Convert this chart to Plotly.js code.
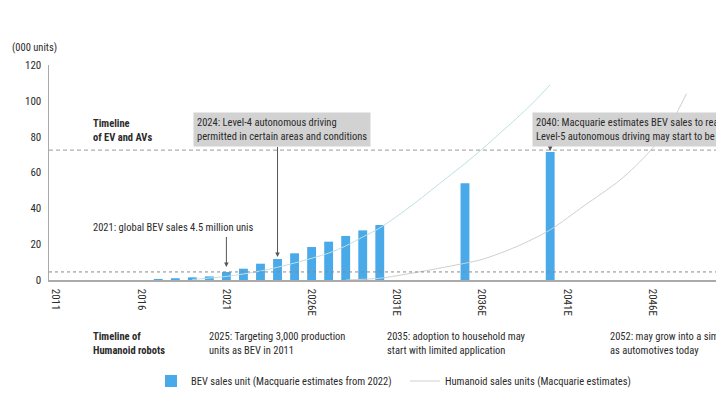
<!DOCTYPE html>
<html>
<head>
<meta charset="utf-8">
<script src="https://cdn.plot.ly/plotly-3.0.1.min.js"></script>
<style>html,body{margin:0;padding:0;background:#fff;}#chart{width:716px;height:403px;}</style>
</head>
<body>
<div id="chart"></div>
<script>
// ---- data ----
var bevYears = [2017, 2018, 2019, 2020, 2021, 2022, 2023, 2024, 2025, 2026, 2027, 2028, 2029, 2030, 2035, 2040];
var bevSales = [0.6, 1.0, 1.5, 2.0, 4.5, 6.3, 9.1, 11.7, 14.9, 18.4, 21.4, 24.6, 27.7, 30.7, 54, 71.5];

var trendYears = [2019, 2021, 2023, 2025, 2027, 2028, 2029, 2030, 2031, 2032, 2033, 2034, 2035, 2036, 2037, 2038, 2039, 2040];
var trendValues = [0.3, 2, 5, 9.5, 15, 19, 24, 29, 35.5, 42.5, 50, 57.5, 65, 73, 81.5, 90, 99, 109];

var humanoidYears = [2028, 2030, 2032, 2034, 2036, 2038, 2040, 2042, 2044, 2045, 2046, 2047, 2048];
var humanoidSales = [0, 1, 4, 7.5, 11.5, 18.5, 28, 41.5, 55, 63.5, 73.5, 86, 104];

var tickYears = [2011, 2016, 2021, 2026, 2031, 2036, 2041, 2046];
var tickLabels = ['2011', '2016', '2021', '2026E', '2031E', '2036E', '2041E', '2046E'];
var yTicks = [0, 20, 40, 60, 80, 100, 120];

var levelLines = [72.5, 4.5];

// ---- helpers (pixel -> paper/data for text placement) ----
var L = 49, T = 65, PW = 667, PH = 215;
function px(x) { return (x - L) / PW; }
function py(y) { return (T + PH - y) / PH; }
function dy(y) { return (T + PH - y) / PH * 120; }

var FONT = 'Liberation Sans Narrow, Roboto Condensed, DejaVu Sans Condensed, Roboto, sans-serif';
var TXT = '#2b2b2b';
var FS = 10.5;

function note(text, x, y, extra) {
  var a = {text: text, xref: 'paper', yref: 'paper', x: px(x), y: py(y), xanchor: 'left', yanchor: 'middle',
    align: 'left', showarrow: false, font: {family: FONT, size: FS, color: TXT}};
  for (var k in extra) a[k] = extra[k];
  return a;
}
function arrow(year, headPx, tailOffset) {
  return {text: ' ', xref: 'x', yref: 'y', x: year, y: dy(headPx), ax: 0, ay: tailOffset,
    showarrow: true, arrowhead: 2, arrowsize: 0.9, arrowwidth: 1, arrowcolor: '#555', standoff: 0,
    font: {size: 1}};
}

var traces = [
  {type: 'bar', x: bevYears, y: bevSales, width: 0.52, name: 'BEV sales unit (Macquarie estimates from 2022)',
   marker: {color: '#4aa9e8'}, legend: 'legend', hoverinfo: 'x+y'},
  {type: 'scatter', mode: 'lines', x: trendYears, y: trendValues, line: {color: '#bfe0e3', width: 1, shape: 'spline', smoothing: 0.8},
   showlegend: false, name: 'trend'},
  {type: 'scatter', mode: 'lines', x: humanoidYears, y: humanoidSales, line: {color: '#cfcfcf', width: 1, shape: 'spline', smoothing: 0.8},
   name: 'Humanoid sales units (Macquarie estimates)', legend: 'legend2'}
];

var shapes = [
  {type: 'line', xref: 'paper', yref: 'y', x0: 0, x1: 1, y0: levelLines[0], y1: levelLines[0],
   line: {color: '#9a9a9a', width: 1, dash: '4px,3px'}},
  {type: 'line', xref: 'paper', yref: 'y', x0: 0, x1: 1, y0: levelLines[1], y1: levelLines[1],
   line: {color: '#888', width: 1, dash: 'dot'}}
];

var annotations = [
  note('(000 units)', 10, 48),
  note('<b>Timeline</b><br><b>of EV and AVs</b>', 91, 130),
  note('2024: Level-4 autonomous driving<br>permitted in certain areas and conditions', 193, 129.5,
       {bgcolor: '#d2d2d2', borderpad: 3}),
  note('2040: Macquarie estimates BEV sales to reach 70 million units<br>Level-5 autonomous driving may start to be adopted', 532, 129.5,
       {bgcolor: '#d2d2d2', borderpad: 3}),
  note('2021: global BEV sales 4.5 million unis', 91, 227),
  note('<b>Timeline of</b><br><b>Humanoid robots</b>', 91, 343),
  note('2025: Targeting 3,000 production<br>units as BEV in 2011', 207, 343),
  note('2035: adoption to household may<br>start with limited application', 385, 343),
  note('2052: may grow into a similar market size<br>as automotives today', 608, 343),
  arrow(2021, 267, -32),
  arrow(2024, 257, -112),
  arrow(2040, 151, -6),
  arrow(2025, 284, 44),
  arrow(2035, 284, 42)
];

var layout = {
  width: 716, height: 403,
  margin: {l: L, r: 0, t: T, b: 403 - T - PH, pad: 0},
  paper_bgcolor: '#fff', plot_bgcolor: '#fff',
  font: {family: FONT, size: FS, color: TXT},
  xaxis: {range: [2010.59, 2049.73], tickvals: tickYears, ticktext: tickLabels, tickangle: 90,
    showline: true, linecolor: '#aaaaaa', linewidth: 1.5, showgrid: false, zeroline: false,
    ticks: 'outside', ticklen: 5, tickcolor: 'rgba(0,0,0,0)', tickfont: {family: FONT, size: 11, color: TXT}},
  yaxis: {range: [0, 120], tickvals: yTicks, showline: true, linecolor: '#aaaaaa', linewidth: 1.5,
    showgrid: false, zeroline: false, ticks: 'outside', ticklen: 4, tickcolor: 'rgba(0,0,0,0)',
    tickfont: {family: FONT, size: 11, color: TXT}},
  showlegend: true,
  legend: {xref: 'container', yref: 'container', x: 151 / 716, y: 1 - 381 / 403, xanchor: 'left', yanchor: 'middle',
    orientation: 'h', bgcolor: 'rgba(0,0,0,0)', font: {family: FONT, size: FS, color: TXT}},
  legend2: {xref: 'container', yref: 'container', x: 405 / 716, y: 1 - 381 / 403, xanchor: 'left', yanchor: 'middle',
    orientation: 'h', bgcolor: 'rgba(0,0,0,0)', font: {family: FONT, size: FS, color: TXT}},
  shapes: shapes,
  annotations: annotations
};

Plotly.newPlot('chart', traces, layout, {displayModeBar: false, staticPlot: true});
</script>
</body>
</html>
